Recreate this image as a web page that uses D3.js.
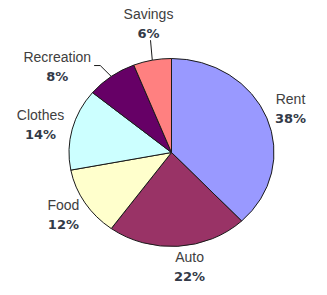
<html>
<head>
  <script src="https://d3js.org/d3.v7.min.js"></script>
  <style>
    body { margin: 0; background: #fff; }
  </style>
</head>
<body>
<svg></svg>
<script>
  // chart data
  const categories = ["Rent", "Auto", "Food", "Clothes", "Recreation", "Savings"];
  const shares = [38, 22, 12, 14, 8, 6];
  const sliceColors = ["#9999ff", "#993366", "#ffffcc", "#ccffff", "#660066", "#ff8080"];

  const width = 327, height = 295;
  const cx = 171.5, cy = 152.5;
  const rx = 102.5, ry = 94;
  const labelRadius = 128;
  // labels Excel moved by hand (dx, dy) and which ones get a leader line
  const nudges = { Auto: [10, -3], Clothes: [-7, 2], Recreation: [-39, 9], Savings: [1, -13] };
  const leaders = ["Recreation", "Savings"];

  const svg = d3.select("svg").attr("width", width).attr("height", height);

  const data = categories.map(function(c, i) { return { name: c, value: shares[i], color: sliceColors[i] }; });
  const pie = d3.pie().sort(null).value(function(d) { return d.value; });
  const arcs = pie(data);
  const arc = d3.arc().innerRadius(0).outerRadius(rx);

  svg.append("g")
    .attr("transform", "translate(" + cx + "," + cy + ") scale(1," + (ry / rx) + ")")
    .selectAll("path")
    .data(arcs)
    .enter().append("path")
    .attr("d", arc)
    .attr("fill", function(d) { return d.data.color; })
    .attr("stroke", "#1a1a1a")
    .attr("stroke-width", 1)
    .attr("vector-effect", "non-scaling-stroke");

  function pointAt(a, r) {
    return [cx + r * Math.sin(a), cy - r * Math.cos(a) * ry / rx];
  }

  arcs.forEach(function(d) {
    const mid = (d.startAngle + d.endAngle) / 2;
    const p = pointAt(mid, labelRadius);
    const n = nudges[d.data.name] || [0, 0];
    const lx = p[0] + n[0], ly = p[1] + n[1];

    const g = svg.append("g");
    const name = g.append("text")
      .attr("x", lx).attr("y", ly - 5)
      .attr("text-anchor", "middle")
      .style("font-family", "Liberation Sans, Arial, sans-serif")
      .style("font-size", "14px")
      .style("fill", "#404040")
      .text(d.data.name);
    g.append("text")
      .attr("x", lx).attr("y", ly + 14)
      .attr("text-anchor", "middle")
      .style("font-family", "DejaVu Sans, Verdana, sans-serif")
      .style("font-weight", "bold")
      .style("font-size", "13px")
      .style("fill", "#333a48")
      .text(d.data.value + "%");

    if (leaders.indexOf(d.data.name) >= 0) {
      const e = pointAt(mid, rx);
      let pts;
      if (d.data.name === "Recreation") {
        const w = name.node().getComputedTextLength();
        const elbow = [e[0] - 11, ly - 1];
        pts = [e, elbow, [lx + w / 2 + 3, ly - 1]];
      } else {
        pts = [e, [lx + 2, ly + 16]];
      }
      svg.append("path")
        .attr("d", d3.line()(pts))
        .attr("fill", "none")
        .attr("stroke", "#1a1a1a")
        .attr("stroke-width", 1);
    }
  });
</script>
</body>
</html>
